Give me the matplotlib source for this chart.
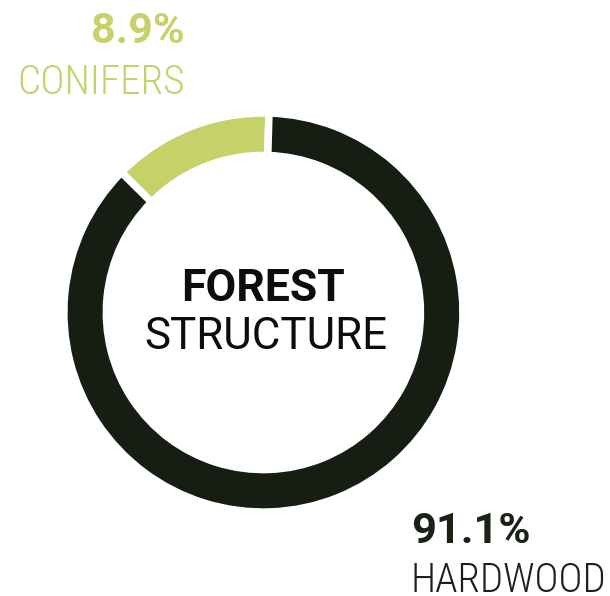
import matplotlib
matplotlib.use("Agg")
import matplotlib.pyplot as plt

# ---- data ----
categories = ["CONIFERS", "HARDWOOD"]
share_labels = ["8.9%", "91.1%"]          # printed values
arc_shares = [13.05, 86.95]               # arc sizes as drawn in the reference
colors = ["#c6d16a", "#161e14"]
center_title = ["FOREST", "STRUCTURE"]

W, H = 610, 596
fig = plt.figure(figsize=(W / 100, H / 100), dpi=100)
ax = fig.add_axes([0, 0, 1, 1])

gap_px = 7.5
lw_pt = gap_px * 72 / 100
cx, cy = 263.4, H - 312.5
r_out = 195.8 + gap_px / 2
r_in = 160.8 - gap_px / 2

ax.pie(arc_shares, colors=colors, startangle=88.4, counterclock=True,
       radius=r_out, center=(cx, cy), frame=True,
       wedgeprops=dict(width=r_out - r_in, edgecolor="white", linewidth=lw_pt))
ax.set_xlim(0, W)
ax.set_ylim(0, H)
ax.set_aspect("auto")
ax.axis("off")

def py(y):
    return H - y

# Conifers label (top-left)
ax.text(185, py(43.3), share_labels[0], ha="right", va="baseline",
        fontfamily="Roboto", fontweight="bold", fontsize=31, color=colors[0])
ax.text(185, py(94), categories[0], ha="right", va="baseline",
        fontfamily="Roboto Condensed", fontweight=300, fontsize=29.6, color=colors[0])

# Hardwood label (bottom-right)
ax.text(411.5, py(543.3), share_labels[1], ha="left", va="baseline",
        fontfamily="Roboto", fontweight="bold", fontsize=31.3, color="#1a2218")
ax.text(411, py(591.5), categories[1], ha="left", va="baseline",
        fontfamily="Roboto Condensed", fontweight=300, fontsize=29.3, color="#1a2218")

# Center title
ax.text(263.5, py(300.7), center_title[0], ha="center", va="baseline",
        fontfamily="Roboto", fontweight="bold", fontsize=32, color="#0d0d0d")
ax.text(266, py(349), center_title[1], ha="center", va="baseline",
        fontfamily="Roboto", fontweight="normal", fontsize=31.6, color="#0d0d0d")

fig.savefig("out.png", dpi=100)
